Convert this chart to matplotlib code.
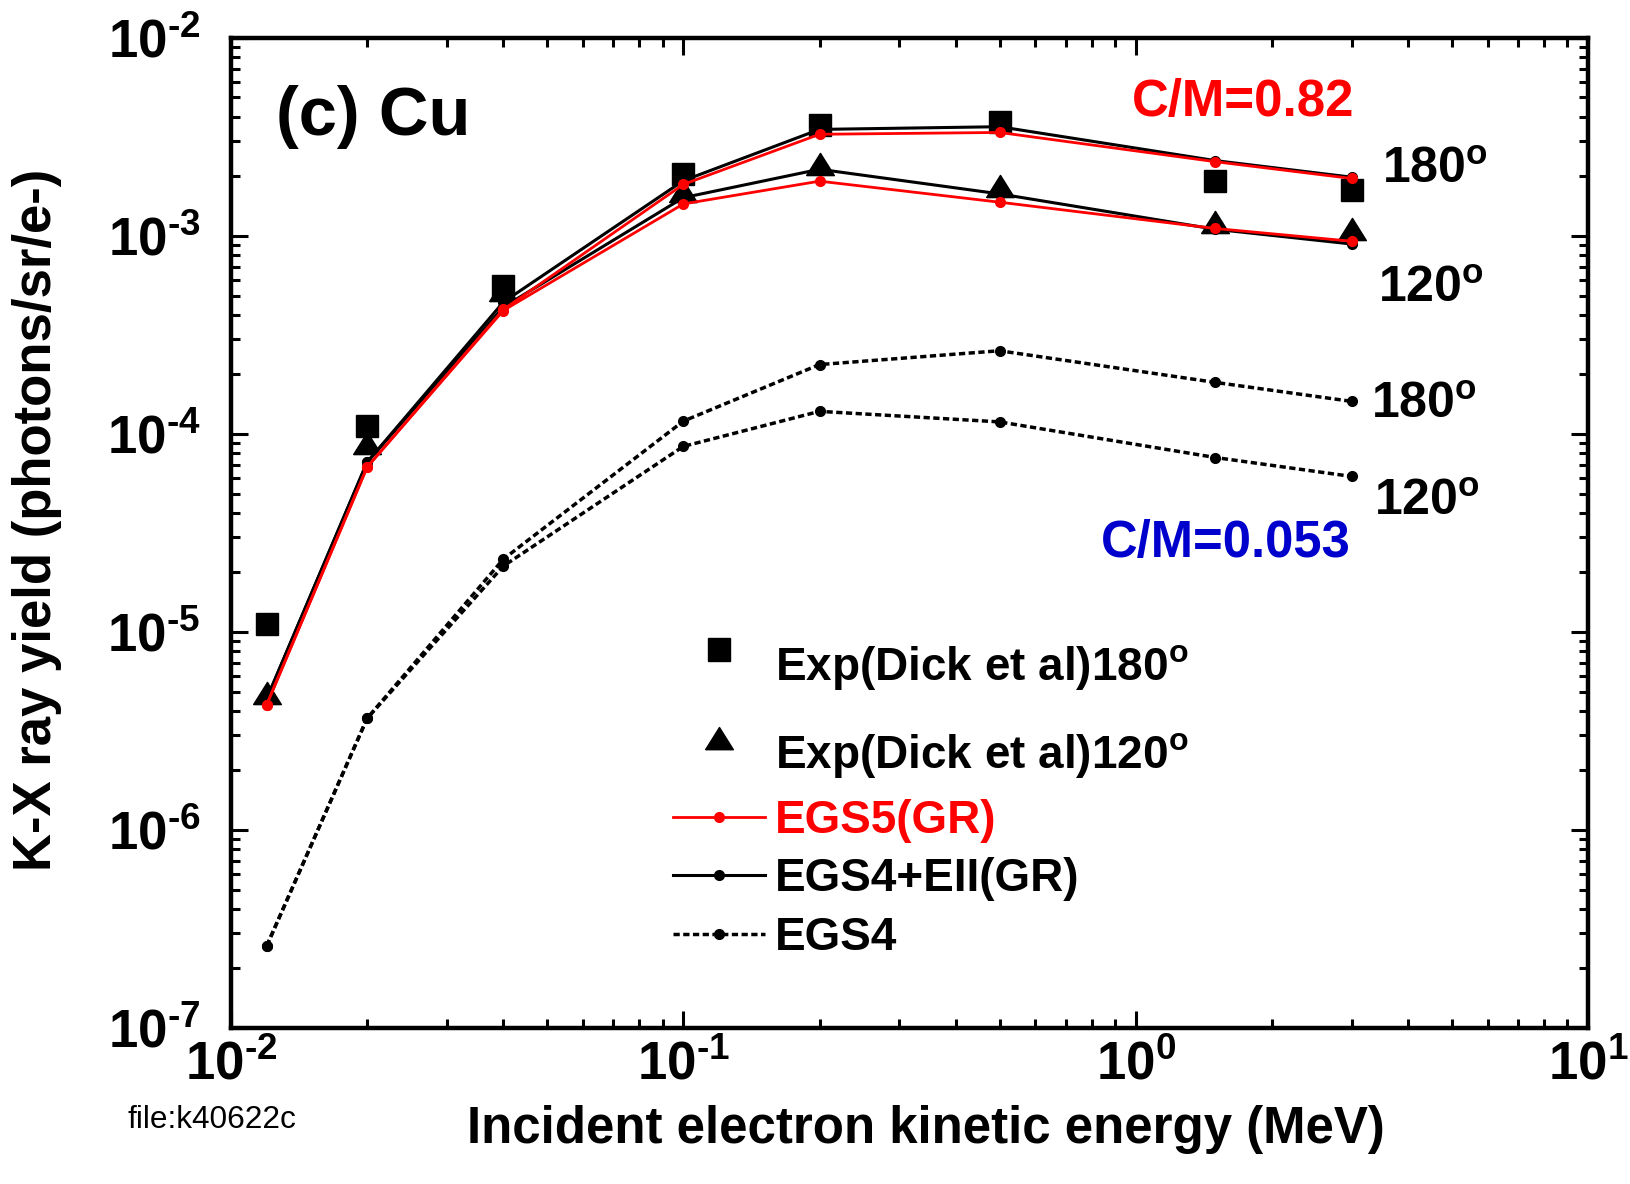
import numpy as np
import matplotlib
matplotlib.use("Agg")
import matplotlib.pyplot as plt
from matplotlib.lines import Line2D
from matplotlib.markers import MarkerStyle
from matplotlib.transforms import Affine2D
from matplotlib.ticker import LogLocator, FuncFormatter, NullFormatter

plt.rcParams['font.family'] = ['Liberation Sans', 'DejaVu Sans']
plt.rcParams['font.weight'] = 'bold'
plt.rcParams['mathtext.fontset'] = 'custom'
plt.rcParams['mathtext.rm'] = 'Liberation Sans:bold'
plt.rcParams['mathtext.bf'] = 'Liberation Sans:bold'
plt.rcParams['mathtext.it'] = 'Liberation Sans:bold'
plt.rcParams['mathtext.default'] = 'rm'

# incident electron energy (MeV)
energy = [0.012, 0.02, 0.04, 0.1, 0.2, 0.5, 1.5, 3.0]

# experiment (Dick et al)
exp_180 = [1.1e-5, 1.1e-4, 5.6e-4, 2.05e-3, 3.65e-3, 3.75e-3, 1.9e-3, 1.7e-3]
exp_120 = [4.9e-6, 9.0e-5, 5.3e-4, 1.68e-3, 2.3e-3, 1.78e-3, 1.18e-3, 1.08e-3]

# EGS5 (GR)
egs5_180 = [4.3e-6, 6.8e-5, 4.25e-4, 1.82e-3, 3.26e-3, 3.33e-3, 2.37e-3, 1.95e-3]
egs5_120 = [4.3e-6, 6.8e-5, 4.2e-4, 1.45e-3, 1.89e-3, 1.48e-3, 1.09e-3, 9.4e-4]

# EGS4 + EII (GR)
eii_180 = [4.6e-6, 7.2e-5, 4.63e-4, 1.9e-3, 3.45e-3, 3.56e-3, 2.40e-3, 1.98e-3]
eii_120 = [4.6e-6, 7.2e-5, 4.37e-4, 1.56e-3, 2.17e-3, 1.63e-3, 1.08e-3, 9.1e-4]

# plain EGS4
egs4_180 = [2.6e-7, 3.66e-6, 2.33e-5, 1.16e-4, 2.24e-4, 2.63e-4, 1.82e-4, 1.46e-4]
egs4_120 = [2.6e-7, 3.66e-6, 2.15e-5, 8.65e-5, 1.30e-4, 1.15e-4, 7.6e-5, 6.1e-5]

fig = plt.figure(figsize=(16.31, 11.84), dpi=100)
ax = fig.add_axes([0.1416, 0.1318, 0.8321, 0.8362])

dotted = (0, (1.8, 1.0))
# triangle a bit wider than tall, like the original
tri = [(-1.0, -0.8), (1.0, -0.8), (0.0, 0.8), (-1.0, -0.8)]

ax.plot(energy, exp_180, ls='none', marker='s', ms=16, color='black', zorder=2)
ax.plot(energy, exp_120, ls='none', marker=tri, ms=20, color='black', zorder=2)

h_eii, = ax.plot(energy, eii_180, '-', color='black', lw=2.2, marker='o', ms=7, zorder=3)
ax.plot(energy, eii_120, '-', color='black', lw=2.2, marker='o', ms=7, zorder=3)
h_egs5, = ax.plot(energy, egs5_180, '-', color='red', lw=2.0, marker='o', ms=7, zorder=4)
ax.plot(energy, egs5_120, '-', color='red', lw=2.0, marker='o', ms=7, zorder=4)
h_egs4, = ax.plot(energy, egs4_180, color='black', lw=2.5, ls=dotted, marker='o', ms=7, zorder=3)
ax.plot(energy, egs4_120, color='black', lw=2.5, ls=dotted, marker='o', ms=7, zorder=3)

ax.set_xscale('log')
ax.set_yscale('log')
ax.set_xlim(1e-2, 1e1)
ax.set_ylim(1e-7, 1e-2)


def pow10(v, pos):
    e = str(int(round(np.log10(v)))).replace('-', '\u2010')
    return r'$\mathdefault{10^{%s}}$' % e


for axis in (ax.xaxis, ax.yaxis):
    axis.set_major_locator(LogLocator(base=10, numticks=20))
    axis.set_minor_locator(LogLocator(base=10, subs=np.arange(2, 10), numticks=20))
    axis.set_minor_formatter(NullFormatter())
    axis.set_major_formatter(FuncFormatter(pow10))

ax.tick_params(which='both', direction='in', top=True, right=True, width=2.2)
ax.tick_params(which='major', length=12, labelsize=38)
ax.tick_params(which='minor', length=6.5)
ax.tick_params(axis='x', which='major', pad=9)
ax.tick_params(axis='y', which='major', pad=22)
for lab in ax.get_xticklabels() + ax.get_yticklabels():
    lab.set_fontweight('bold')
for sp in ax.spines.values():
    sp.set_linewidth(3.2)

ax.set_xlabel('Incident electron kinetic energy (MeV)', fontsize=36.7, fontweight='bold')
ax.xaxis.set_label_coords(0.512, -0.078)
ax.set_ylabel('K-X ray yield (photons/sr/e-)', fontsize=38, fontweight='bold')
ax.yaxis.set_label_coords(-0.1245, 0.513)

ax.text(0.033, 0.902, '(c) Cu', transform=ax.transAxes, fontsize=49.5, fontweight='bold')
ax.text(0.828, 0.921, 'C/M=0.82', transform=ax.transAxes, fontsize=36.7,
        fontweight='bold', color='red', ha='right')
ax.text(0.825, 0.476, 'C/M=0.053', transform=ax.transAxes, fontsize=36.5,
        fontweight='bold', color='#0000cc', ha='right')

deg_labels = [('180', 0.848, 0.854), ('120', 0.845, 0.733),
              ('180', 0.840, 0.616), ('120', 0.842, 0.518)]
for txt, xf, yf in deg_labels:
    ax.text(xf, yf, txt + r'$^{\mathrm{o}}$', transform=ax.transAxes, fontsize=36,
            fontweight='bold', va='baseline')

# legend symbols for the experiment sit a little above their text
sq_leg = Line2D([], [], ls='none', color='black', ms=16,
                marker=MarkerStyle('s', transform=Affine2D().translate(0, 0.65)))
tri_leg = Line2D([], [], ls='none', color='black', ms=20,
                 marker=MarkerStyle(tri, transform=Affine2D().translate(0, 0.5)))

leg_kw = dict(loc='upper left', frameon=False, fontsize=33, handlelength=2.0,
              handletextpad=0.22, borderpad=0, borderaxespad=0)
leg1 = ax.legend([sq_leg, tri_leg],
                 [r'Exp(Dick et al)180$^{\mathrm{o}}$', r'Exp(Dick et al)120$^{\mathrm{o}}$'],
                 bbox_to_anchor=(0.326, 0.389), labelspacing=0.86, **leg_kw)
ax.add_artist(leg1)
leg2 = ax.legend([h_egs5, h_eii, h_egs4], ['EGS5(GR)', 'EGS4+EII(GR)', 'EGS4'],
                 bbox_to_anchor=(0.326, 0.231), labelspacing=0.31, **leg_kw)
leg2.get_texts()[0].set_color('red')

fig.text(0.078, 0.047, 'file:k40622c', fontsize=22.8, fontweight='normal')

fig.savefig('out.png', dpi=100)
